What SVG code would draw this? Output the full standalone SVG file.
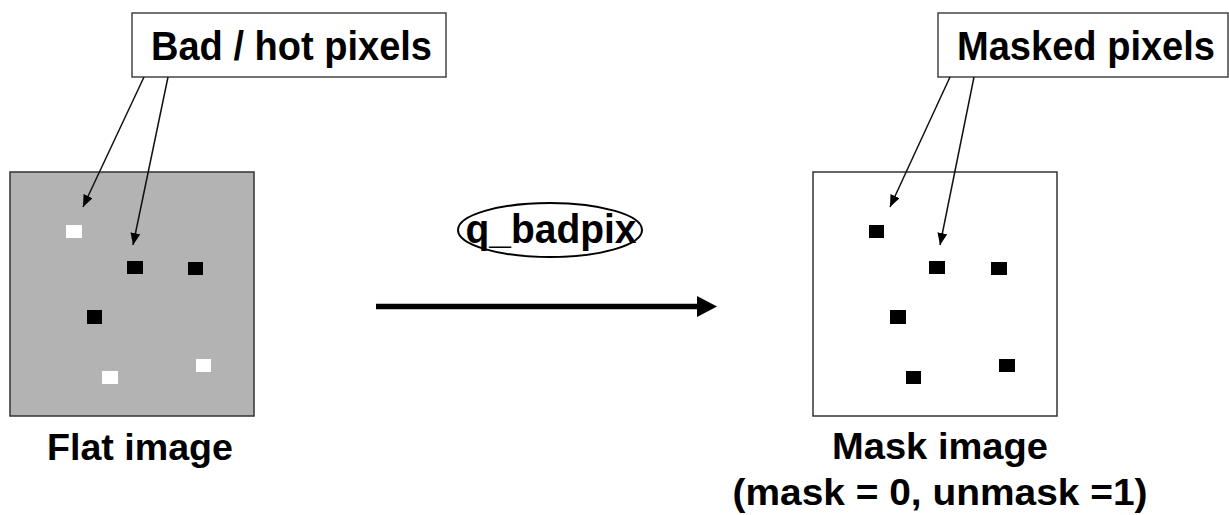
<svg xmlns="http://www.w3.org/2000/svg" width="1229" height="515" viewBox="0 0 1229 515">
<style>
  text { font-family: "Liberation Sans", Arial, sans-serif; font-weight: bold; fill: #000; }
  .lbl { font-size: 40px; }
  .cap { font-size: 37px; text-anchor: middle; }
  .box { fill: #fff; stroke: #444; stroke-width: 1.5; }
  .img { stroke: #333; stroke-width: 1.5; }
  .ptr { stroke: #111; stroke-width: 1.5; fill: none; marker-end: url(#thin); }
  .wp { fill: #fff; }
  .bp { fill: #000; }
</style>
<defs>
  <marker id="thin" markerUnits="userSpaceOnUse" markerWidth="13" markerHeight="11" refX="12" refY="5" orient="auto">
    <path d="M0,0 L12,5 L0,10 z" fill="#000"/>
  </marker>
  <marker id="big" markerUnits="userSpaceOnUse" markerWidth="21" markerHeight="22" refX="3" refY="10.5" orient="auto">
    <path d="M0,0 L20,10.5 L0,21 z" fill="#000"/>
  </marker>
</defs>
<rect width="1229" height="515" fill="#fff"/>

<g id="flat-image">
  <rect class="img" x="10" y="172" width="244" height="244" fill="#b3b3b3"/>
  <rect class="wp" x="66" y="225" width="16" height="13"/>
  <rect class="bp" x="127" y="261" width="16" height="13"/>
  <rect class="bp" x="188" y="262" width="15" height="13"/>
  <rect class="bp" x="87" y="310" width="15" height="14"/>
  <rect class="wp" x="102" y="371" width="16" height="13"/>
  <rect class="wp" x="196" y="359" width="15" height="13"/>
  <text class="cap" x="140" y="460" textLength="186" lengthAdjust="spacingAndGlyphs">Flat image</text>
</g>

<g id="mask-image">
  <rect class="img" x="813" y="172" width="244" height="244" fill="#fff"/>
  <rect class="bp" x="869" y="225" width="15" height="13"/>
  <rect class="bp" x="929" y="261" width="16" height="13"/>
  <rect class="bp" x="991" y="262" width="16" height="13"/>
  <rect class="bp" x="890" y="310" width="16" height="14"/>
  <rect class="bp" x="906" y="371" width="15" height="13"/>
  <rect class="bp" x="999" y="359" width="16" height="13"/>
  <text class="cap" x="940" y="459" textLength="216" lengthAdjust="spacingAndGlyphs">Mask image</text>
  <text class="cap" x="940" y="505" textLength="415" lengthAdjust="spacingAndGlyphs">(mask = 0, unmask =1)</text>
</g>

<g id="bad-pixels-label">
  <rect class="box" x="132" y="13" width="314" height="64"/>
  <text class="lbl" x="151" y="60" textLength="281" lengthAdjust="spacingAndGlyphs">Bad / hot pixels</text>
</g>

<g id="masked-pixels-label">
  <rect class="box" x="938" y="13" width="290" height="64"/>
  <text class="lbl" x="957" y="60" textLength="258" lengthAdjust="spacingAndGlyphs">Masked pixels</text>
</g>

<g id="q-badpix">
  <ellipse cx="550" cy="230" rx="92" ry="27" fill="#fff" stroke="#000" stroke-width="2"/>
  <text x="551" y="243" font-size="40" text-anchor="middle" textLength="171" lengthAdjust="spacingAndGlyphs">q_badpix</text>
</g>

<g id="connectors">
  <line class="ptr" x1="144" y1="77" x2="83" y2="207"/>
  <line class="ptr" x1="168" y1="77" x2="133" y2="245"/>
  <line class="ptr" x1="950" y1="77" x2="890" y2="207"/>
  <line class="ptr" x1="974" y1="77" x2="940" y2="245"/>
  <line x1="376" y1="306.5" x2="700" y2="306.5" stroke="#000" stroke-width="5.5" marker-end="url(#big)"/>
</g>
</svg>
